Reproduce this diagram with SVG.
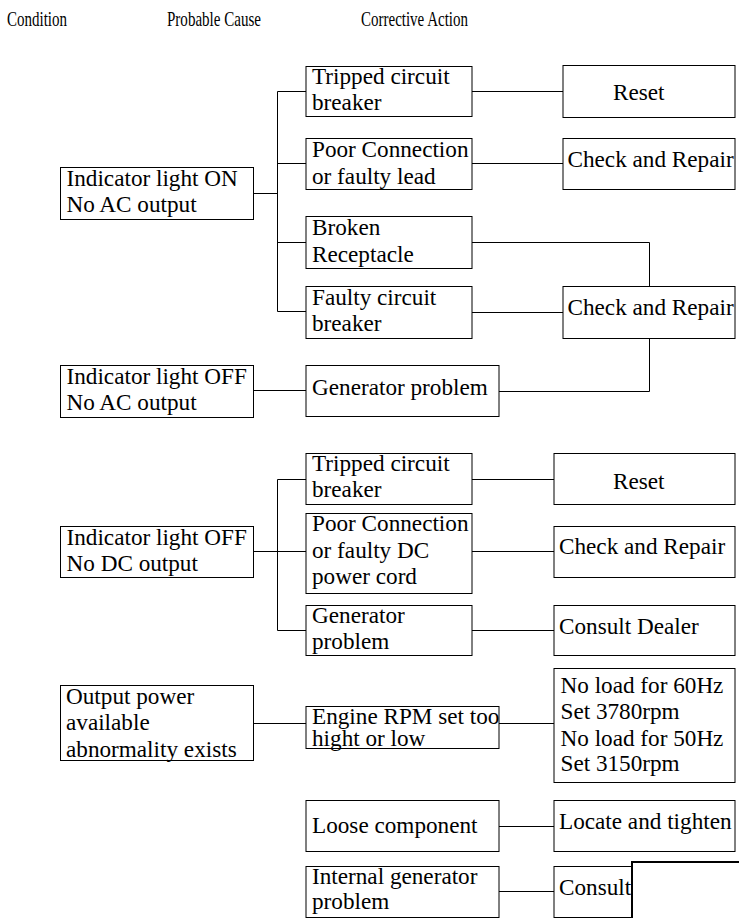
<svg xmlns="http://www.w3.org/2000/svg" width="739" height="918" viewBox="0 0 739 918">
<style>
.box{fill:#fff;stroke:#000;stroke-width:1}
.t{font-family:"Liberation Serif","Times New Roman",serif;font-size:23.2px;fill:#000}
.h{font-family:"Liberation Serif","Times New Roman",serif;font-size:21px;fill:#000}
.c{fill:none;stroke:#000;stroke-width:1}
</style>
<rect width="739" height="918" fill="#fff"/>
<g id="headers">
<text class="h" x="7" y="26" textLength="60" lengthAdjust="spacingAndGlyphs">Condition</text>
<text class="h" x="167" y="26" textLength="94" lengthAdjust="spacingAndGlyphs">Probable Cause</text>
<text class="h" x="361" y="26" textLength="107" lengthAdjust="spacingAndGlyphs">Corrective Action</text>
</g>
<g id="connectors">
<path class="c" d="M253.5,193.5H277.5M277.5,91.5V311.5M277.5,91.5H306M277.5,163.5H306M277.5,242.5H306M277.5,311.5H306"/>
<path class="c" d="M472,91.5H563M472,163.5H563M472,242.5H649.5V286M472,312.5H563"/>
<path class="c" d="M649.5,338V391.5H499M253.5,390.5H306"/>
<path class="c" d="M253.5,551.5H277.5M277.5,479.5V630.5M277.5,479.5H306M277.5,551.5H306M277.5,630.5H306"/>
<path class="c" d="M472,479.5H554M472,551.5H554M472,630.5H554"/>
<path class="c" d="M253.5,723.5H306M499,723.5H554M499,826.5H554M499,891.5H554"/>
</g>
<g id="c1"><rect class="box" x="60.5" y="167.5" width="193" height="52"/><text class="t" x="66.5" y="186">Indicator light ON</text><text class="t" x="66.5" y="212">No AC output</text></g>
<g id="c2"><rect class="box" x="60.5" y="365.5" width="193" height="52"/><text class="t" x="66.5" y="384">Indicator light OFF</text><text class="t" x="66.5" y="410">No AC output</text></g>
<g id="c3"><rect class="box" x="60.5" y="526.5" width="193" height="51"/><text class="t" x="66.5" y="545">Indicator light OFF</text><text class="t" x="66.5" y="571">No DC output</text></g>
<g id="c4"><rect class="box" x="60.5" y="685.5" width="193" height="75"/><text class="t" x="66" y="703.5">Output power</text><text class="t" x="66" y="730">available</text><text class="t" x="66" y="756.5">abnormality exists</text></g>
<g id="p1"><rect class="box" x="306" y="66.5" width="166" height="50"/><text class="t" x="312" y="83.5">Tripped circuit</text><text class="t" x="312" y="110">breaker</text></g>
<g id="p2"><rect class="box" x="306" y="138.5" width="166" height="51"/><text class="t" x="312" y="157">Poor Connection</text><text class="t" x="312" y="183.5">or faulty lead</text></g>
<g id="p3"><rect class="box" x="306" y="216.5" width="166" height="52"/><text class="t" x="312" y="235">Broken</text><text class="t" x="312" y="261.5">Receptacle</text></g>
<g id="p4"><rect class="box" x="306" y="286.5" width="166" height="52"/><text class="t" x="312" y="305">Faulty circuit</text><text class="t" x="312" y="331">breaker</text></g>
<g id="p5"><rect class="box" x="306" y="365.5" width="193" height="51"/><text class="t" x="312" y="394.5">Generator problem</text></g>
<g id="p6"><rect class="box" x="306" y="453.5" width="166" height="51"/><text class="t" x="312" y="470.5">Tripped circuit</text><text class="t" x="312" y="496.5">breaker</text></g>
<g id="p7"><rect class="box" x="306" y="513.5" width="166" height="80"/><text class="t" x="312" y="531">Poor Connection</text><text class="t" x="312" y="557.5">or faulty DC</text><text class="t" x="312" y="584">power cord</text></g>
<g id="p8"><rect class="box" x="306" y="605.5" width="166" height="50"/><text class="t" x="312" y="623">Generator</text><text class="t" x="312" y="649">problem</text></g>
<g id="p9"><rect class="box" x="306" y="706.5" width="193" height="42"/><text class="t" x="312" y="724">Engine RPM set too</text><text class="t" x="312" y="746">hight or low</text></g>
<g id="p10"><rect class="box" x="306" y="800.5" width="193" height="51"/><text class="t" x="312" y="833">Loose component</text></g>
<g id="p11"><rect class="box" x="306" y="866.5" width="193" height="51"/><text class="t" x="312" y="883.5">Internal generator</text><text class="t" x="312" y="908.5">problem</text></g>
<g id="a1"><rect class="box" x="563" y="65.5" width="172" height="52"/><text class="t" x="613" y="100">Reset</text></g>
<g id="a2"><rect class="box" x="563" y="138.5" width="172" height="51"/><text class="t" x="567.5" y="167">Check and Repair</text></g>
<g id="a3"><rect class="box" x="563" y="286.5" width="172" height="52"/><text class="t" x="567.5" y="315">Check and Repair</text></g>
<g id="a4"><rect class="box" x="554" y="453.5" width="181" height="51"/><text class="t" x="613" y="488.5">Reset</text></g>
<g id="a5"><rect class="box" x="554" y="526.5" width="181" height="51"/><text class="t" x="559" y="553.5">Check and Repair</text></g>
<g id="a6"><rect class="box" x="554" y="605.5" width="181" height="50"/><text class="t" x="559" y="633.5">Consult Dealer</text></g>
<g id="a7"><rect class="box" x="554" y="668.5" width="181" height="114"/><text class="t" x="560.5" y="693">No load for 60Hz</text><text class="t" x="560.5" y="718.5">Set 3780rpm</text><text class="t" x="560.5" y="746">No load for 50Hz</text><text class="t" x="560.5" y="771">Set 3150rpm</text></g>
<g id="a8"><rect class="box" x="554" y="800.5" width="181" height="51"/><text class="t" x="559" y="829">Locate and tighten</text></g>
<g id="a9"><rect class="box" x="554" y="866.5" width="181" height="51"/><text class="t" x="559" y="895">Consult</text></g>
<g id="overlay"><rect x="632" y="862" width="130" height="80" fill="#fff" stroke="#000" stroke-width="2"/></g>
</svg>
